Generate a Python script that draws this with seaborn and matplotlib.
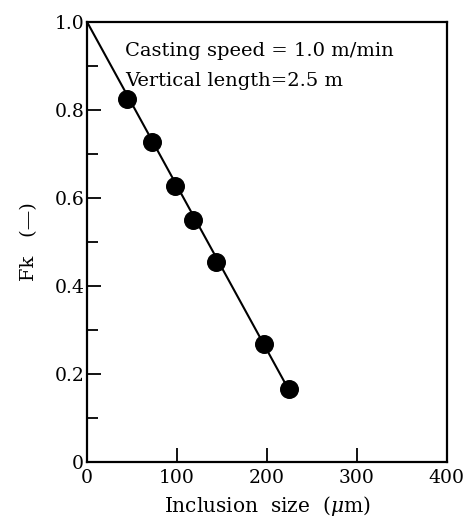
import numpy
import matplotlib
matplotlib.use("Agg")
import matplotlib.pyplot as plt
import seaborn
import pandas

# datos
inclusion_size = [44, 72, 98, 118, 143, 197, 224]
fk = [0.825, 0.727, 0.628, 0.550, 0.455, 0.268, 0.165]

# recta ajustada
linea_x = [0, 224]
linea_y = [1.0, 0.165]

xticks = [0, 100, 200, 300, 400]
yticks = [0, 0.2, 0.4, 0.6, 0.8, 1.0]
yticklabels = ["0", "0.2", "0.4", "0.6", "0.8", "1.0"]

seaborn.set_style("ticks")
plt.rcParams['font.family'] = ['DejaVu Serif']
plt.rcParams['mathtext.fontset'] = 'dejavuserif'
plt.rcParams['text.color'] = 'black'
plt.rcParams['axes.labelcolor'] = 'black'
plt.rcParams['xtick.color'] = 'black'
plt.rcParams['ytick.color'] = 'black'

fig = plt.figure(figsize=(4.65, 5.31), dpi=100)
ax = fig.add_axes([0.187, 0.130, 0.774, 0.829])

df = pandas.DataFrame({"x": inclusion_size, "y": fk})
dl = pandas.DataFrame({"x": linea_x, "y": linea_y})

seaborn.lineplot(data=dl, x="x", y="y", color="black", linewidth=1.5, ax=ax)
seaborn.scatterplot(data=df, x="x", y="y", color="black", s=160, edgecolor="black",
                    zorder=3, ax=ax)

ax.set_xlim(0, 400)
ax.set_ylim(0, 1.0)

ax.set_xticks(xticks)
ax.set_xticklabels([str(t) for t in xticks], fontsize=13.5)
ax.set_yticks(yticks)
ax.set_yticklabels(yticklabels, fontsize=13.5)
ax.set_yticks([0.1, 0.3, 0.5, 0.7, 0.9], minor=True)

ax.tick_params(axis="both", which="both", direction="in", width=1.3, top=False, right=False,
               colors="black")
ax.tick_params(axis="y", which="major", length=10, pad=2)
ax.tick_params(axis="y", which="minor", length=8)
ax.tick_params(axis="x", which="major", length=10, pad=5)

for s in ax.spines.values():
    s.set_linewidth(1.6)
    s.set_color("black")

ax.set_xlabel("Inclusion  size  ($\\mu$m)", fontsize=14.5, labelpad=5)
ax.set_ylabel("Fk   (\u2014)", fontsize=14, labelpad=12)

ax.text(0.105, 0.955, "Casting speed = 1.0 m/min", fontsize=14, ha="left", va="top",
        transform=ax.transAxes)
ax.text(0.105, 0.885, "Vertical length=2.5 m", fontsize=14, ha="left", va="top",
        transform=ax.transAxes)

fig.savefig("out.png", dpi=100, facecolor="white")
